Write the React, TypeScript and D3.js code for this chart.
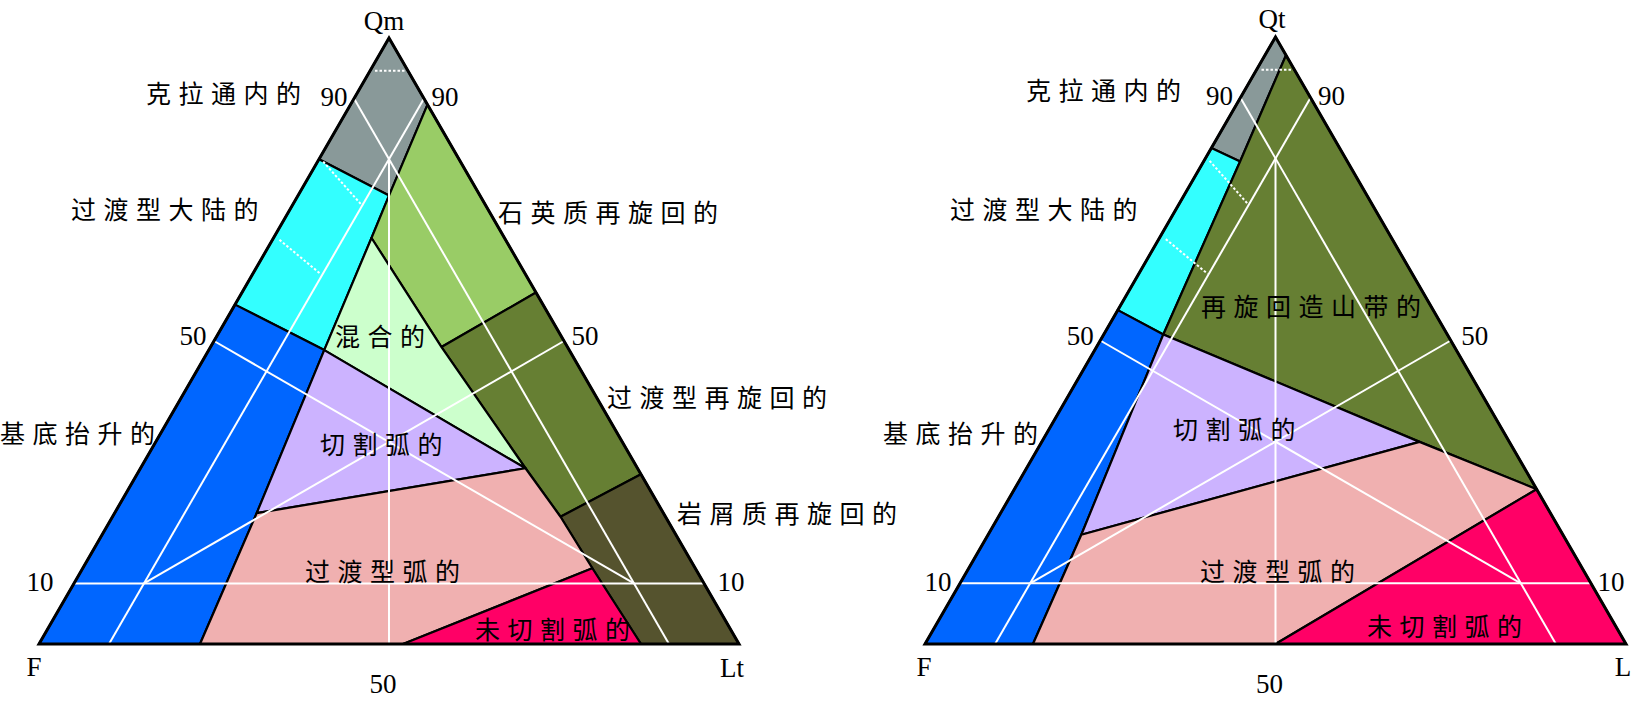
import React from 'react';
import * as d3 from 'd3';

type T = [number, number, number]; // [top, F, right] in percent

// ---------- Left diagram: Qm – F – Lt (Dickinson) ----------
const QMFLT_CRATON: T[] = [[100, 0, 0], [89, 0, 11], [74, 13, 13], [80, 20, 0]];
const QMFLT_TRANS_CONT: T[] = [[80, 20, 0], [74, 13, 13], [67, 19, 14], [48.5, 35, 16.5], [56, 44, 0]];
const QMFLT_BASEMENT: T[] = [[56, 44, 0], [48.5, 35, 16.5], [21.6, 58.1, 20.3], [0, 77, 23], [0, 100, 0]];
const QMFLT_QUARTZ_REC: T[] = [[89, 0, 11], [58, 0, 42], [49, 18, 33], [67, 19, 14], [74, 13, 13]];
const QMFLT_TRANS_REC: T[] = [[58, 0, 42], [28, 0, 72], [21, 15, 64], [29, 16, 55], [49, 18, 33]];
const QMFLT_LITHIC_REC: T[] = [[28, 0, 72], [0, 0, 100], [0, 14, 86], [12.5, 14.7, 72.8], [21, 15, 64]];
const QMFLT_MIXED: T[] = [[67, 19, 14], [49, 18, 33], [29, 16, 55], [48.5, 35, 16.5]];
const QMFLT_DISSECTED: T[] = [[48.5, 35, 16.5], [29, 16, 55], [21.6, 58.1, 20.3]];
const QMFLT_TRANS_ARC: T[] = [[21.6, 58.1, 20.3], [29, 16, 55], [21, 15, 64], [12.5, 14.7, 72.8], [0, 48, 52], [0, 77, 23]];
const QMFLT_UNDISSECTED: T[] = [[0, 48, 52], [12.5, 14.7, 72.8], [0, 14, 86]];

// ---------- Right diagram: Qt – F – L ----------
const QTFL_CRATON: T[] = [[100, 0, 0], [97, 0, 3], [79.5, 15.3, 5.2], [81.7, 18.3, 0]];
const QTFL_TRANS_CONT: T[] = [[81.7, 18.3, 0], [79.5, 15.3, 5.2], [51, 40.5, 8.5], [55, 45, 0]];
const QTFL_BASEMENT: T[] = [[55, 45, 0], [51, 40.5, 8.5], [18, 68.7, 13.3], [0, 84.6, 15.4], [0, 100, 0]];
const QTFL_RECYCLED: T[] = [[97, 0, 3], [25.5, 0, 74.5], [33.3, 12.8, 53.9], [51, 40.5, 8.5], [79.5, 15.3, 5.2]];
const QTFL_DISSECTED: T[] = [[51, 40.5, 8.5], [33.3, 12.8, 53.9], [18, 68.7, 13.3]];
const QTFL_TRANS_ARC: T[] = [[18, 68.7, 13.3], [33.3, 12.8, 53.9], [25.5, 0, 74.5], [0, 50, 50], [0, 84.6, 15.4]];
const QTFL_UNDISSECTED: T[] = [[0, 50, 50], [25.5, 0, 74.5], [0, 0, 100]];

// ---------- Shared grid (white) ----------
const GRID_LINES: [T, T][] = [
  [[10, 90, 0], [10, 0, 90]],
  [[90, 10, 0], [0, 10, 90]],
  [[90, 0, 10], [0, 90, 10]],
  [[80, 10, 10], [0, 50, 50]],
  [[10, 80, 10], [50, 0, 50]],
  [[10, 10, 80], [50, 50, 0]],
];
const DOTTED_LINES: [T, T][] = [
  [[94.6, 4.7, 0.7], [94.6, 0.4, 5.0]],
  [[79.6, 19.6, 0.8], [72.5, 17.7, 9.8]],
  [[66.7, 32.3, 1.0], [61.0, 29.2, 9.8]],
];

// ---------- Text ----------
const LEFT_VERTEX_LABELS = ['Qm', 'F', 'Lt'];
const RIGHT_VERTEX_LABELS = ['Qt', 'F', 'L'];
const TICK_VALUES = ['90', '50', '10'];
const BOTTOM_TICK = '50';
const LEFT_FIELD_NAMES = ['克拉通内的', '过渡型大陆的', '石英质再旋回的', '混合的', '过渡型再旋回的', '切割弧的', '基底抬升的', '过渡型弧的', '岩屑质再旋回的', '未切割弧的'];
const RIGHT_FIELD_NAMES = ['克拉通内的', '过渡型大陆的', '再旋回造山带的', '基底抬升的', '切割弧的', '过渡型弧的', '未切割弧的'];

// ---------- Styles / layout ----------
const C = {
  craton: '#899999',
  transCont: '#33FFFF',
  basement: '#0066FF',
  quartzRec: '#99CC66',
  transRec: '#667F33',
  lithicRec: '#55532E',
  recycled: '#667F33',
  mixed: '#CCFFCC',
  dissected: '#CCB3FF',
  transArc: '#F0B0B0',
  undissected: '#FF0066',
};

const LEFT_FIELDS = [
  { pts: QMFLT_CRATON, fill: C.craton },
  { pts: QMFLT_TRANS_CONT, fill: C.transCont },
  { pts: QMFLT_BASEMENT, fill: C.basement },
  { pts: QMFLT_QUARTZ_REC, fill: C.quartzRec },
  { pts: QMFLT_TRANS_REC, fill: C.transRec },
  { pts: QMFLT_LITHIC_REC, fill: C.lithicRec },
  { pts: QMFLT_MIXED, fill: C.mixed },
  { pts: QMFLT_DISSECTED, fill: C.dissected },
  { pts: QMFLT_TRANS_ARC, fill: C.transArc },
  { pts: QMFLT_UNDISSECTED, fill: C.undissected },
];
const RIGHT_FIELDS = [
  { pts: QTFL_CRATON, fill: C.craton },
  { pts: QTFL_TRANS_CONT, fill: C.transCont },
  { pts: QTFL_BASEMENT, fill: C.basement },
  { pts: QTFL_RECYCLED, fill: C.recycled },
  { pts: QTFL_DISSECTED, fill: C.dissected },
  { pts: QTFL_TRANS_ARC, fill: C.transArc },
  { pts: QTFL_UNDISSECTED, fill: C.undissected },
];

const LEFT_GEOM = { fx: 39, lx: 739, by: 644, ty: 38 };
const RIGHT_GEOM = { fx: 925, lx: 1626, by: 644, ty: 37 };

// label layout (start-x, centre-y)
const LEFT_FIELD_POS = [[146, 92], [71, 208], [498, 211], [335, 335], [607, 396], [320, 443], [0, 432], [305, 570], [677, 512], [475, 628]];
const RIGHT_FIELD_POS = [[1026, 89], [950, 208], [1201, 305], [883, 432], [1173, 428], [1200, 570], [1367, 625]];
const LEFT_VERTEX_POS = [[384, 21], [34, 667], [732, 668]];
const RIGHT_VERTEX_POS = [[1272, 19], [924, 667], [1623, 667]];
const LEFT_TICK_LEFT_DX = [-20, -21, -34];
const LEFT_TICK_RIGHT_DX = [21, 21, 27];
const RIGHT_TICK_LEFT_DX = [-21, -20, -22];
const RIGHT_TICK_RIGHT_DX = [21, 24, 20];
const TICK_DY = [-2, -5, -1];

const SERIF = '"Liberation Serif", "Times New Roman", serif';
const CJK = '"Noto Sans CJK SC", "Noto Sans CJK JP", sans-serif';
const SERIF_SIZE = 27;

function makeProj(g: { fx: number; lx: number; by: number; ty: number }) {
  const xs = d3.scaleLinear().domain([0, 100]).range([g.fx, g.lx]);
  const ys = d3.scaleLinear().domain([0, 100]).range([g.by, g.ty]);
  return (t: T): [number, number] => [xs(t[2] + t[0] / 2), ys(t[0])];
}

const line = d3.line<[number, number]>();

function Diagram(props: {
  geom: typeof LEFT_GEOM;
  fields: { pts: T[]; fill: string }[];
  fieldNames: string[];
  fieldPos: number[][];
  vertexLabels: string[];
  vertexPos: number[][];
  tickLeftDx: number[];
  tickRightDx: number[];
}) {
  const p = makeProj(props.geom);
  const ticks = [90, 50, 10];
  return (
    <g>
      {props.fields.map((f, i) => (
        <path key={'f' + i} d={line(f.pts.map(p)) + 'Z'} fill={f.fill} stroke="#000" strokeWidth={2.2} strokeLinejoin="round" />
      ))}
      {GRID_LINES.map((l, i) => (
        <path key={'g' + i} d={line(l.map(p)) as string} stroke="#fff" strokeWidth={2} fill="none" />
      ))}
      {DOTTED_LINES.map((l, i) => (
        <path key={'d' + i} d={line(l.map(p)) as string} stroke="#fff" strokeWidth={2} strokeDasharray="2.5,2" fill="none" />
      ))}
      <path d={line([[100, 0, 0], [0, 100, 0], [0, 0, 100]].map((t) => p(t as T))) + 'Z'} fill="none" stroke="#000" strokeWidth={3} strokeLinejoin="miter" />
      {ticks.map((v, i) => {
        const [lx, ly] = p([v, 100 - v, 0]);
        const [rx, ry] = p([v, 0, 100 - v]);
        return (
          <g key={'t' + i} fontFamily={SERIF} fontSize={SERIF_SIZE} textAnchor="middle" dominantBaseline="central">
            <text x={lx + props.tickLeftDx[i]} y={ly + TICK_DY[i]}>{TICK_VALUES[i]}</text>
            <text x={rx + props.tickRightDx[i]} y={ry + TICK_DY[i]}>{TICK_VALUES[i]}</text>
          </g>
        );
      })}
      {(() => {
        const [bx, by] = p([0, 50, 50]);
        return (
          <text x={bx - 6} y={by + 40} fontFamily={SERIF} fontSize={SERIF_SIZE} textAnchor="middle" dominantBaseline="central">{BOTTOM_TICK}</text>
        );
      })()}
      {props.vertexLabels.map((s, i) => (
        <text key={'v' + i} x={props.vertexPos[i][0]} y={props.vertexPos[i][1]} fontFamily={SERIF} fontSize={SERIF_SIZE} textAnchor="middle" dominantBaseline="central">{s}</text>
      ))}
      {props.fieldNames.map((s, i) => (
        <text key={'n' + i} x={props.fieldPos[i][0]} y={props.fieldPos[i][1]} fontFamily={CJK} fontSize={25} style={{ letterSpacing: '7.5px' }} textAnchor="start" dominantBaseline="central" fill="#000">{s}</text>
      ))}
    </g>
  );
}

export default function App() {
  return (
    <svg width={1633} height={701} style={{ position: 'absolute', left: 0, top: 0, background: '#fff' }}>
      <rect x={0} y={0} width={1633} height={701} fill="#fff" />
      <Diagram geom={LEFT_GEOM} fields={LEFT_FIELDS} fieldNames={LEFT_FIELD_NAMES} fieldPos={LEFT_FIELD_POS}
        vertexLabels={LEFT_VERTEX_LABELS} vertexPos={LEFT_VERTEX_POS} tickLeftDx={LEFT_TICK_LEFT_DX} tickRightDx={LEFT_TICK_RIGHT_DX} />
      <Diagram geom={RIGHT_GEOM} fields={RIGHT_FIELDS} fieldNames={RIGHT_FIELD_NAMES} fieldPos={RIGHT_FIELD_POS}
        vertexLabels={RIGHT_VERTEX_LABELS} vertexPos={RIGHT_VERTEX_POS} tickLeftDx={RIGHT_TICK_LEFT_DX} tickRightDx={RIGHT_TICK_RIGHT_DX} />
    </svg>
  );
}
